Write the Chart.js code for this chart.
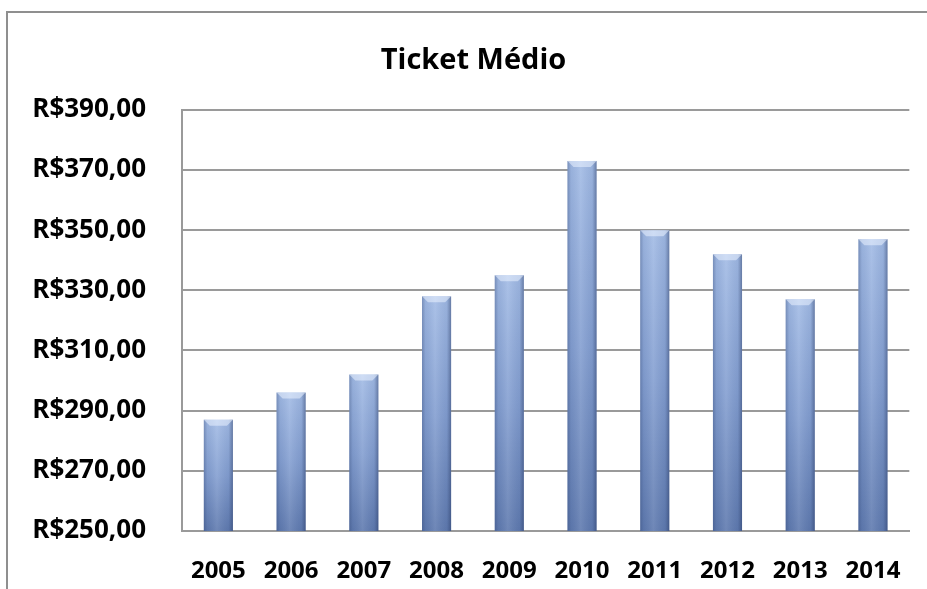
<!DOCTYPE html>
<html lang="pt">
<head>
    <meta charset="UTF-8">
    <title>Ticket Médio</title>
    <style>
        html, body {
            margin: 0;
            padding: 0;
            background: #ffffff;
            overflow: hidden;
        }
        .frame {
            position: absolute;
            left: 6px;
            top: 11px;
            width: 1000px;
            height: 700px;
            border-left: 2px solid #8f8f8f;
            border-top: 2px solid #8f8f8f;
        }
        #chart {
            position: absolute;
            left: 0;
            top: 0;
        }
    </style>
</head>
<body>
    <div class="frame"></div>
    <canvas id="chart" width="927" height="589"></canvas>

    <script src="https://cdn.jsdelivr.net/npm/chart.js"></script>
    <script>
        // data
        const years = ['2005', '2006', '2007', '2008', '2009', '2010', '2011', '2012', '2013', '2014'];
        const ticketValues = [287, 296, 302, 328, 335, 373, 350, 342, 327, 347];
        const yTickLabels = ['R$250,00', 'R$270,00', 'R$290,00', 'R$310,00', 'R$330,00', 'R$350,00', 'R$370,00', 'R$390,00'];

        const gridColor = '#9a9a9a';
        const fontFamily = "'Open Sans', 'Liberation Sans', sans-serif";

        // vertical gradient for each bar, from its top down to the axis
        function barFill(ctx) {
            const chart = ctx.chart;
            const yScale = chart.scales.y;
            if (!yScale || ctx.raw === undefined) return '#7f99cc';
            const top = yScale.getPixelForValue(ctx.raw);
            const base = yScale.getPixelForValue(yScale.min);
            if (!isFinite(top) || !isFinite(base) || top === base) return '#7f99cc';
            const g = chart.ctx.createLinearGradient(0, top, 0, base);
            g.addColorStop(0, '#a2bbe5');
            g.addColorStop(0.5, '#849fd1');
            g.addColorStop(1, '#5f7aaf');
            return g;
        }

        // side shading + top bevel drawn over the bars
        const barShade = {
            id: 'barShade',
            afterDatasetsDraw(chart) {
                const c = chart.ctx;
                const area = chart.chartArea;
                const meta = chart.getDatasetMeta(0);
                meta.data.forEach(bar => {
                    const left = bar.x - bar.width / 2;
                    const right = bar.x + bar.width / 2;
                    const top = bar.y;
                    const bottom = Math.min(bar.base, area.bottom);

                    const h = c.createLinearGradient(left, 0, right, 0);
                    h.addColorStop(0, 'rgba(40, 60, 105, 0.35)');
                    h.addColorStop(0.12, 'rgba(40, 60, 105, 0.08)');
                    h.addColorStop(0.45, 'rgba(255, 255, 255, 0.10)');
                    h.addColorStop(0.85, 'rgba(40, 60, 105, 0.08)');
                    h.addColorStop(1, 'rgba(30, 45, 85, 0.45)');
                    c.save();
                    c.fillStyle = h;
                    c.fillRect(left, top, right - left, bottom - top);

                    // bevel on the top edge
                    const bev = 6;
                    c.beginPath();
                    c.moveTo(left, top);
                    c.lineTo(right, top);
                    c.lineTo(right - bev, top + bev);
                    c.lineTo(left + bev, top + bev);
                    c.closePath();
                    c.fillStyle = 'rgba(235, 242, 255, 0.55)';
                    c.fill();
                    c.restore();
                });
            }
        };

        const ctx = document.getElementById('chart').getContext('2d');
        new Chart(ctx, {
            type: 'bar',
            data: {
                labels: years,
                datasets: [{
                    label: 'Ticket Médio',
                    data: ticketValues,
                    backgroundColor: barFill,
                    borderWidth: 0,
                    categoryPercentage: 1,
                    barPercentage: 0.4
                }]
            },
            options: {
                responsive: false,
                animation: false,
                layout: {
                    // left padding shifts the title centre; y axis width keeps the plot edge
                    padding: { left: 32, right: 12, top: 0, bottom: 0 }
                },
                plugins: {
                    legend: { display: false },
                    tooltip: { enabled: false },
                    title: {
                        display: true,
                        text: 'Ticket Médio',
                        color: '#000',
                        font: { family: fontFamily, size: 29, weight: 'bold', lineHeight: 1.2 },
                        padding: { top: 43, bottom: 32 }
                    }
                },
                scales: {
                    x: {
                        grid: { display: false, drawTicks: false },
                        border: { display: true, color: gridColor, width: 2 },
                        ticks: {
                            color: '#000',
                            padding: 26,
                            font: { family: fontFamily, size: 24, weight: 'bold' }
                        },
                        afterFit(scale) { scale.height = 58; }
                    },
                    y: {
                        min: 250,
                        max: 390,
                        grid: { color: gridColor, lineWidth: 2, drawTicks: false },
                        border: { display: true, color: gridColor, width: 2 },
                        ticks: {
                            stepSize: 20,
                            color: '#000',
                            padding: 36,
                            font: { family: fontFamily, size: 26, weight: 'bold' },
                            callback: (value, index) => yTickLabels[index]
                        },
                        afterFit(scale) { scale.width = 150; }
                    }
                }
            },
            plugins: [barShade]
        });
    </script>
</body>
</html>
